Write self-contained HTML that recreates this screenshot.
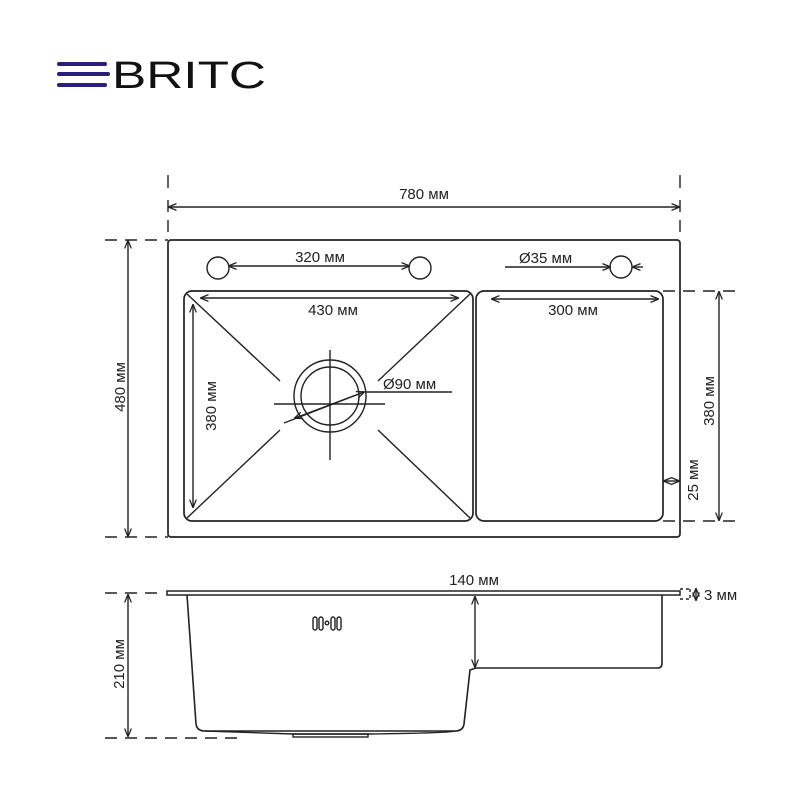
<!DOCTYPE html>
<html><head><meta charset="utf-8"><style>
html,body{margin:0;padding:0;background:#fff;}
svg{display:block;}
text{font-family:"Liberation Sans",sans-serif;fill:#222;}
</style></head><body>
<svg width="800" height="800" viewBox="0 0 800 800" xmlns="http://www.w3.org/2000/svg">
<defs>
<marker id="a" viewBox="0 0 10 10" refX="9" refY="5" markerWidth="6" markerHeight="6" orient="auto-start-reverse"><path d="M0,1 L10,5 L0,9" fill="none" stroke="#222" stroke-width="1.5"/></marker>
</defs>
<!-- logo -->
<g fill="#2a1f7a">
<rect x="57" y="62" width="50" height="4" rx="2"/>
<rect x="57" y="72" width="53" height="4" rx="2"/>
<rect x="57" y="83" width="50" height="4" rx="2"/>
</g>
<text x="112" y="88" font-size="38" textLength="154" lengthAdjust="spacingAndGlyphs" style="fill:#111">BRITC</text>

<g stroke="#222" fill="none" stroke-width="1.4">
<!-- top view -->
<rect x="168" y="240" width="512" height="297" rx="3" stroke-width="1.7"/>
<rect x="184" y="291" width="289" height="230" rx="8" stroke-width="1.7"/>
<rect x="476" y="291" width="187" height="230" rx="8" stroke-width="1.7"/>
<circle cx="218" cy="268" r="11"/>
<circle cx="420" cy="268" r="11"/>
<circle cx="621" cy="267" r="11"/>
<line x1="229" y1="266" x2="409" y2="266" marker-start="url(#a)" marker-end="url(#a)"/>
<line x1="505" y1="267" x2="610" y2="267" marker-end="url(#a)"/>
<line x1="643" y1="267" x2="633" y2="267" marker-end="url(#a)"/>
<line x1="201" y1="298" x2="458" y2="298" marker-start="url(#a)" marker-end="url(#a)"/>
<line x1="492" y1="299" x2="658" y2="299" marker-start="url(#a)" marker-end="url(#a)"/>
<line x1="193" y1="305" x2="193" y2="507" marker-start="url(#a)" marker-end="url(#a)"/>
<!-- diagonals -->
<line x1="187" y1="294" x2="280" y2="381"/>
<line x1="470" y1="294" x2="378" y2="381"/>
<line x1="187" y1="518" x2="280" y2="430"/>
<line x1="470" y1="518" x2="378" y2="430"/>
<!-- drain -->
<circle cx="330" cy="396" r="36"/>
<circle cx="330" cy="396" r="29"/>
<line x1="330" y1="350" x2="330" y2="460"/>
<line x1="274" y1="404" x2="385" y2="404"/>
<line x1="284" y1="423" x2="364" y2="392" marker-end="url(#a)"/>
<line x1="364" y1="392" x2="295" y2="418" marker-end="url(#a)"/>
<line x1="365" y1="392" x2="452" y2="392"/>
<!-- 780 -->
<line x1="168" y1="175" x2="168" y2="188"/>
<line x1="680" y1="175" x2="680" y2="188"/>
<line x1="168" y1="200" x2="168" y2="240" stroke-dasharray="12,8"/>
<line x1="680" y1="200" x2="680" y2="240" stroke-dasharray="12,8"/>
<line x1="169" y1="207" x2="679" y2="207" marker-start="url(#a)" marker-end="url(#a)"/>
<!-- 480 -->
<line x1="105" y1="240" x2="168" y2="240" stroke-dasharray="12,8"/>
<line x1="105" y1="537" x2="168" y2="537" stroke-dasharray="12,8"/>
<line x1="128" y1="241" x2="128" y2="536" marker-start="url(#a)" marker-end="url(#a)"/>
<!-- right 380 -->
<line x1="663" y1="291" x2="735" y2="291" stroke-dasharray="12,8"/>
<line x1="663" y1="521" x2="735" y2="521" stroke-dasharray="12,8"/>
<line x1="719" y1="292" x2="719" y2="520" marker-start="url(#a)" marker-end="url(#a)"/>
<line x1="664" y1="481" x2="679" y2="481" marker-start="url(#a)" marker-end="url(#a)"/>

<!-- side view -->
<rect x="167" y="591" width="513" height="4" stroke-width="1.5"/>
<path d="M187,595 L196,724 Q197,731 205,731 L455,731 Q463,731 464,724 L470,670 L476,668 L658,668 Q662,668 662,663 L662,595" stroke-width="1.6"/>
<path d="M205,731 Q290,734 293,734 L368,734 Q450,733 455,731"/>
<rect x="293" y="734" width="75" height="3"/>
<line x1="475" y1="597" x2="475" y2="667" marker-start="url(#a)" marker-end="url(#a)"/>
<line x1="105" y1="593" x2="165" y2="593" stroke-dasharray="12,8"/>
<line x1="105" y1="738" x2="245" y2="738" stroke-dasharray="12,8"/>
<line x1="128" y1="595" x2="128" y2="736" marker-start="url(#a)" marker-end="url(#a)"/>
<line x1="680" y1="589" x2="690" y2="589" stroke-dasharray="3,3"/>
<line x1="680" y1="599" x2="690" y2="599" stroke-dasharray="3,3"/>
<line x1="690" y1="589" x2="690" y2="599" stroke-dasharray="3,3"/>
<line x1="696" y1="589" x2="696" y2="600" marker-start="url(#a)" marker-end="url(#a)"/>
<!-- logo mark -->
<rect x="313" y="617" width="4" height="13" rx="2"/>
<rect x="319" y="617" width="4" height="13" rx="2"/>
<circle cx="327" cy="623" r="1.8"/>
<rect x="331" y="617" width="4" height="13" rx="2"/>
<rect x="337" y="617" width="4" height="13" rx="2"/>
</g>

<g font-size="15">
<text x="424" y="199" text-anchor="middle">780 мм</text>
<text x="320" y="262" text-anchor="middle">320 мм</text>
<text x="519" y="263">Ø35 мм</text>
<text x="333" y="315" text-anchor="middle">430 мм</text>
<text x="573" y="315" text-anchor="middle">300 мм</text>
<text x="383" y="389">Ø90 мм</text>
<text x="474" y="585" text-anchor="middle">140 мм</text>
<text x="704" y="600">3 мм</text>
<text transform="translate(216,406) rotate(-90)" text-anchor="middle">380 мм</text>
<text transform="translate(125,387) rotate(-90)" text-anchor="middle">480 мм</text>
<text transform="translate(714,401) rotate(-90)" text-anchor="middle">380 мм</text>
<text transform="translate(698,480) rotate(-90)" text-anchor="middle">25 мм</text>
<text transform="translate(124,664) rotate(-90)" text-anchor="middle">210 мм</text>
</g>
</svg>
</body></html>
